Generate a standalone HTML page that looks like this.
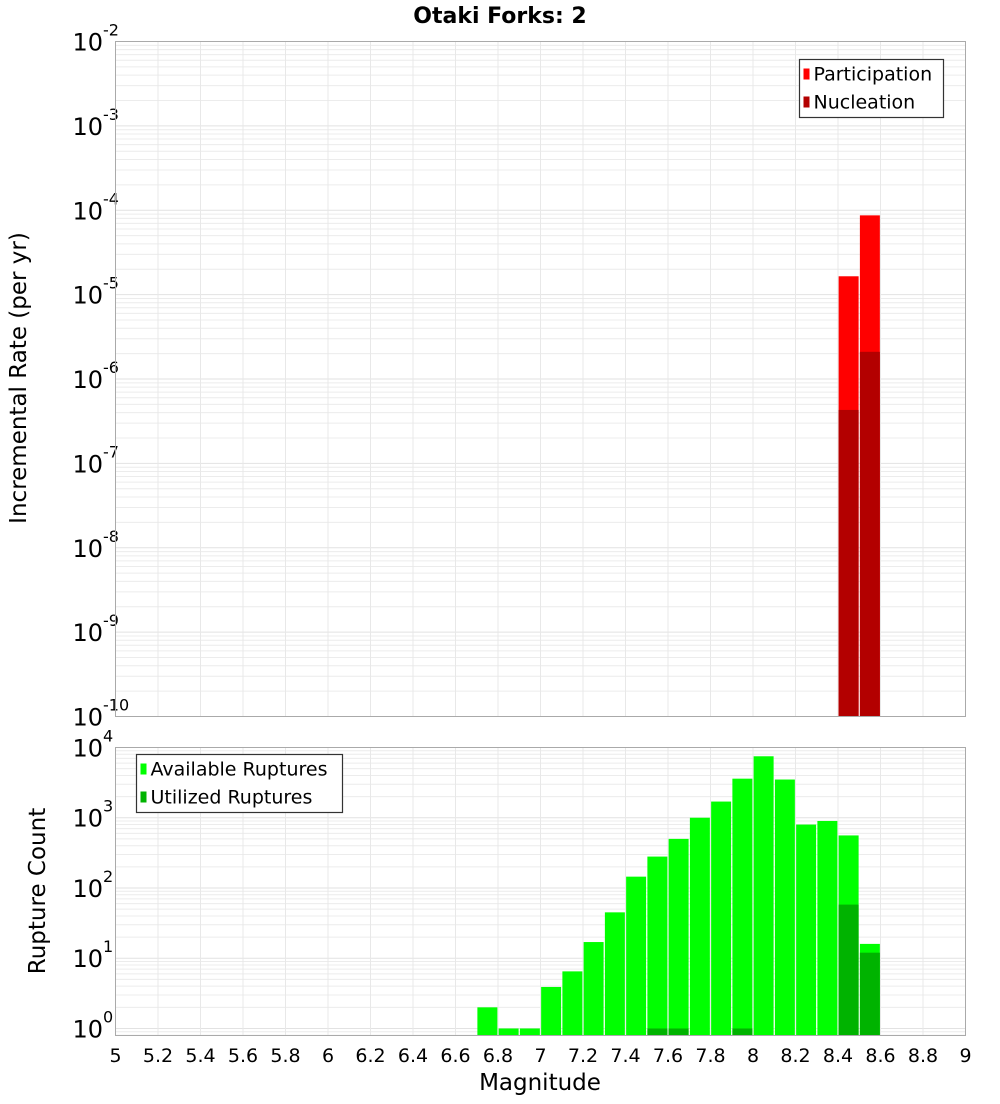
<!DOCTYPE html>
<html><head><meta charset="utf-8"><style>
body{margin:0;background:#fff;font-family:"DejaVu Sans","Liberation Sans",sans-serif}
svg text{font-family:"DejaVu Sans","Liberation Sans",sans-serif}
</style></head><body>
<svg id="chart" width="1000" height="1100" viewBox="0 0 1000 1100" xmlns="http://www.w3.org/2000/svg">
<text x="500" y="23" text-anchor="middle" font-size="22" font-weight="bold">Otaki Forks: 2</text>
<g id="top"></g><g id="bot"></g>
<text transform="translate(26,378) rotate(-90)" text-anchor="middle" font-size="23">Incremental Rate (per yr)</text>
<text transform="translate(45,891) rotate(-90)" text-anchor="middle" font-size="23">Rupture Count</text>
<text x="540" y="1090" text-anchor="middle" font-size="23">Magnitude</text>
</svg>
<script>
const binCenters=[6.75,6.85,6.95,7.05,7.15,7.25,7.35,7.45,7.55,7.65,7.75,7.85,7.95,8.05,8.15,8.25,8.35,8.45,8.55];
const available=[2,1,1,3.9,6.5,17,45,145,280,500,1000,1700,3600,7500,3500,800,900,560,16];
const utilized=[0,0,0,0,0,0,0,0,1,1,0,0,1,0,0,0,0,58,12];
const rateMags=[8.45,8.55];
const participation=[1.65e-5,8.7e-5];
const nucleation=[4.3e-7,2.1e-6];
const xTicks=[5,5.2,5.4,5.6,5.8,6,6.2,6.4,6.6,6.8,7,7.2,7.4,7.6,7.8,8,8.2,8.4,8.6,8.8,9];
const topExps=[-10,-9,-8,-7,-6,-5,-4,-3,-2];
const botExps=[0,1,2,3,4];
const NS="http://www.w3.org/2000/svg";
const L=115.5,R=965.5;
const xs=m=>L+(m-5)/4*(R-L);
function mk(p,t,a){const e=document.createElementNS(NS,t);for(const k in a)e.setAttribute(k,a[k]);p.appendChild(e);return e;}
function panel(g,top,bot,lmin,lmax,exps,name){
  const ys=v=>bot-(Math.log10(v)-lmin)/(lmax-lmin)*(bot-top);
  const bg=mk(g,'rect',{x:L,y:top,width:R-L,height:bot-top,fill:'#fff'});
  
  for(let d=Math.floor(lmin);d<Math.ceil(lmax);d++)for(let k=1;k<10;k++){
    const v=k*Math.pow(10,d);const lv=Math.log10(v);if(lv<lmin||lv>lmax)continue;
    const y=ys(v);const gl=mk(g,'line',{x1:L,x2:R,y1:y,y2:y,stroke:k==1?'#e2e2e2':'#ececec','stroke-width':1});
    }
  xTicks.forEach(t=>{const x=xs(t);const gl=mk(g,'line',{x1:x,x2:x,y1:top,y2:bot,stroke:'#e8e8e8'});
    });
  exps.forEach(e=>{const y=ys(Math.pow(10,e));
    const t=mk(g,'text',{x:103,y:y+9,'text-anchor':'end','font-size':24});
    
    t.textContent='10';
    const s=mk(g,'text',{x:103,y:y-6,'font-size':16});
    s.textContent=String(e);});
  return ys;}
const tg=document.getElementById('top'),bg=document.getElementById('bot');
const T0=41.5,T1=716.5,B0=747.5,B1=1035.5;
const yt=panel(tg,T0,T1,-10,-2,topExps,'top');
const yb=panel(bg,B0,B1,-0.1,4.0,botExps,'bottom');
const bw=(xs(0.094)-xs(0));
rateMags.forEach((m,i)=>{
  const x=xs(m)-bw/2;
  let y=yt(participation[i]);let r=mk(tg,'rect',{x:x,y:y,width:bw,height:T1-y,fill:'#ff0000'});
  
  y=yt(nucleation[i]);r=mk(tg,'rect',{x:x,y:y,width:bw,height:T1-y,fill:'#b30000'});
  });
binCenters.forEach((m,i)=>{
  const x=xs(m)-bw/2;
  if(available[i]>0){const y=Math.max(B0,yb(available[i]));const r=mk(bg,'rect',{x:x,y:y,width:bw,height:B1-y,fill:'#00ff00'});
    }
  if(utilized[i]>0){const y=yb(utilized[i]);const r=mk(bg,'rect',{x:x,y:y,width:bw,height:B1-y,fill:'#00b300'});
    }});
[[tg,T0,T1],[bg,B0,B1]].forEach(([g,a,b])=>{const f=mk(g,'rect',{x:L,y:a,width:R-L,height:b-a,fill:'none',stroke:'#aaa'});
  });
xTicks.forEach(t=>{const tx=mk(bg,'text',{x:xs(t),y:1062,'text-anchor':'middle','font-size':19});
  tx.textContent=String(t);});
function legend(g,x,y,w,items,name){
  const lg=mk(g,'g',{});
  mk(lg,'rect',{x:x,y:y,width:w,height:58,fill:'#fff',stroke:'#333','stroke-width':1.2});
  items.forEach((it,i)=>{mk(lg,'rect',{x:x+4,y:y+9+i*28,width:6,height:11,fill:it[1]});
    const t=mk(lg,'text',{x:x+14,y:y+21+i*28,'font-size':19});
    t.textContent=it[0];});}
legend(tg,799.5,59.5,144,[['Participation','#ff0000'],['Nucleation','#b30000']],'top-legend');
legend(bg,136.5,754.5,206,[['Available Ruptures','#00ff00'],['Utilized Ruptures','#00b300']],'bottom-legend');
</script>
</body></html>
